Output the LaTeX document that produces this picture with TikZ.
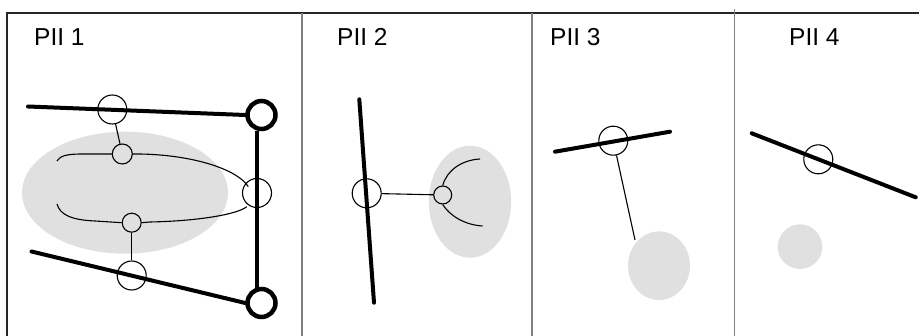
\documentclass[tikz,border=0pt]{standalone}
\usepackage{fontspec}
\setmainfont{Liberation Sans}
\begin{document}
\begin{tikzpicture}[x=1pt,y=-1pt,
  frame/.style={line width=1.1pt,draw=black!85},
  divider/.style={line width=1.1pt,draw=black!50},
  blob/.style={fill=black!12,draw=none},
  rod/.style={line width=4pt,line cap=round},
  joint/.style={circle,draw,line width=1.1pt,inner sep=0pt,minimum size=#1},
  bigjoint/.style={circle,draw,line width=4.5pt,inner sep=0pt,minimum size=28pt},
  link/.style={line width=1.1pt},
  title/.style={anchor=base west,font=\fontsize{24.5}{28}\selectfont,inner sep=0pt}]
\useasboundingbox (0,0) rectangle (919,336);

% outer frame and panel dividers
\draw[frame] (7,336) -- (7,13) -- (919,13);
\draw[divider] (302,13) -- (302,336);
\draw[divider] (532,13) -- (532,336);
\draw[divider] (734.5,9) -- (734.5,336);

% panel titles
\node[title] (t1) at (34,46) {PII 1};
\node[title] (t2) at (337,46) {PII 2};
\node[title] (t3) at (550,46) {PII 3};
\node[title] (t4) at (789,46) {PII 4};

% ---------- panel 1 ----------
\fill[blob] (125,192.7) ellipse [x radius=103, y radius=61];
\coordinate (r1a) at (28,106.5);
\coordinate (r1b) at (31.5,251.5);
\node[bigjoint] (bt) at (261.5,115) {};
\node[bigjoint] (bb) at (261.5,303) {};
\node[joint=29pt] (mr) at (257,193) {};
\node[joint=29pt] (ta) at (112.3,109.5) {};
\node[joint=29pt] (ba) at (131.7,275.5) {};
\node[joint=20pt] (tc) at (122.3,154) {};
\node[joint=19pt] (bc) at (131.7,222.7) {};
\coordinate (mru) at (248.3,186.7);
\coordinate (mrl) at (246.7,206.7);
\draw[rod] (r1a) -- (bt.west);
\draw[rod] (r1b) -- (bb.west);
\draw[rod,line cap=butt] (256.7,131) -- (256.7,288);
\draw[link] (ta) -- (tc);
\draw[link] (bc) -- (ba);
\draw[link] (57,161) .. controls (60,155.5) and (68,154) .. (82,154)
  -- (tc.west) (tc.east) -- (140,154)
  .. controls (195,155) and (238,170) .. (mru);
\draw[link] (57,204) .. controls (60,215) and (72,220) .. (95,221)
  -- (bc.west) (bc.east) -- (150,222)
  .. controls (200,221) and (238,214) .. (mrl);

% ---------- panel 2 ----------
\fill[blob] (470,201.7) ellipse [x radius=41.2, y radius=56];
\coordinate (r2a) at (359.3,99.3);
\coordinate (r2b) at (374,302.7);
\draw[rod] (r2a) -- (r2b);
\node[joint=29pt] (m2) at (366.7,193.3) {};
\node[joint=18pt] (c2) at (442.7,195) {};
\draw[link] (m2) -- (c2);
\draw[link] (c2.north) .. controls (447,170) and (462,160) .. (480,159);
\draw[link] (c2.south) .. controls (450,216) and (465,225) .. (482.7,226);

% ---------- panel 3 ----------
\fill[blob] (659,265.7) ellipse [x radius=31, y radius=34.3];
\coordinate (r3a) at (555,151.7);
\coordinate (r3b) at (670,131.7);
\coordinate (e3) at (635,240);
\draw[rod] (r3a) -- (r3b);
\node[joint=29pt] (m3) at (613.3,140.7) {};
\draw[link] (m3) -- (e3);

% ---------- panel 4 ----------
\fill[blob] (800,246.7) circle [radius=22.3];
\coordinate (r4a) at (751.7,133.3);
\coordinate (r4b) at (915.7,197.3);
\draw[rod] (r4a) -- (r4b);
\node[joint=29pt] (m4) at (818.3,159.3) {};
\end{tikzpicture}
\end{document}
